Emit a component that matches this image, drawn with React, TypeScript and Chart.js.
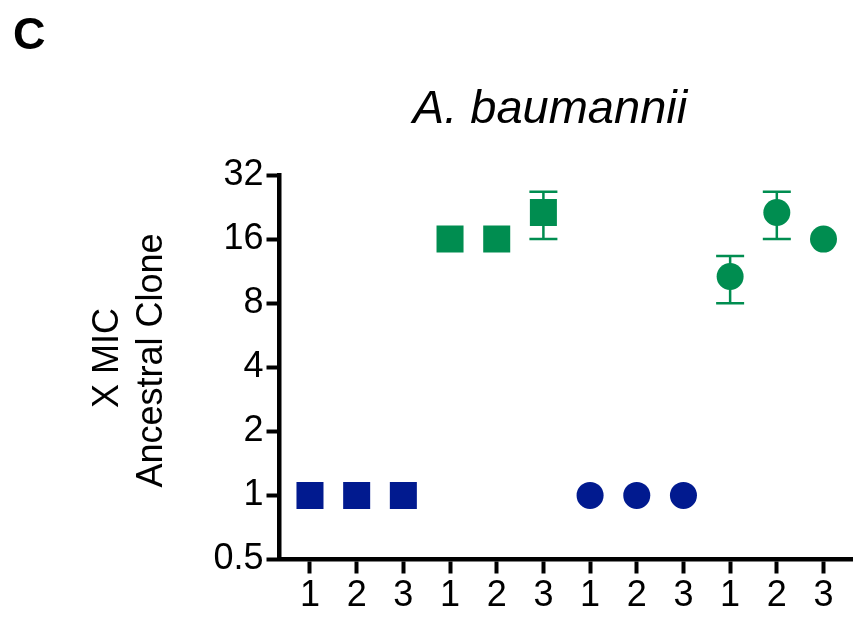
import React, { useEffect, useRef } from 'react';
import { Chart, registerables } from 'chart.js';

Chart.register(...registerables);

// ---- data ----
const categories = ['1', '2', '3', '1', '2', '3', '1', '2', '3', '1', '2', '3'];
const yTickValues = [0.5, 1, 2, 4, 8, 16, 32];

const blueSquareX = [0, 1, 2];
const blueSquareY = [1, 1, 1];

const greenSquareX = [3, 4, 5];
const greenSquareY = [16, 16, 21.33];
const greenSquareLow = [16, 16, 16];
const greenSquareHigh = [16, 16, 26.67];

const blueCircleX = [6, 7, 8];
const blueCircleY = [1, 1, 1];

const greenCircleX = [9, 10, 11];
const greenCircleY = [10.67, 21.33, 16];
const greenCircleLow = [8, 16, 16];
const greenCircleHigh = [13.33, 26.67, 16];

const titleText = 'A. baumannii';
const panelLabel = 'C';
const yTitleLines = ['X MIC', 'Ancestral Clone'];

const BLUE = '#011a8f';
const GREEN = '#008d50';
const FONT = '"Liberation Sans", Arial, Helvetica, sans-serif';

const pts = (xs: number[], ys: number[]) => xs.map((x, i) => ({ x, y: ys[i] }));

const errorBarPlugin = {
  id: 'errorBars',
  beforeDatasetsDraw(chart: any) {
    const { ctx } = chart;
    const xs = chart.scales.x;
    const ys = chart.scales.y;
    chart.data.datasets.forEach((ds: any) => {
      if (!ds.errLow) return;
      ds.data.forEach((p: any, i: number) => {
        const lo = ds.errLow[i];
        const hi = ds.errHigh[i];
        if (lo === hi) return;
        const px = xs.getPixelForValue(p.x);
        const y1 = ys.getPixelForValue(lo);
        const y2 = ys.getPixelForValue(hi);
        ctx.save();
        ctx.strokeStyle = ds.backgroundColor;
        ctx.lineWidth = 2.5;
        ctx.beginPath();
        ctx.moveTo(px, y1);
        ctx.lineTo(px, y2);
        ctx.moveTo(px - 14, y1);
        ctx.lineTo(px + 14, y1);
        ctx.moveTo(px - 14, y2);
        ctx.lineTo(px + 14, y2);
        ctx.stroke();
        ctx.restore();
      });
    });
  },
};

const textPlugin = {
  id: 'extraText',
  afterDraw(chart: any) {
    const { ctx } = chart;
    ctx.save();
    ctx.fillStyle = '#000';
    ctx.textAlign = 'center';
    ctx.textBaseline = 'alphabetic';
    ctx.font = `italic 47px ${FONT}`;
    ctx.fillText(titleText, 550, 123);
    ctx.textAlign = 'left';
    ctx.font = `bold 45px ${FONT}`;
    ctx.fillText(panelLabel, 13, 49);
    // y-axis title (two rotated lines)
    ctx.font = `36px ${FONT}`;
    ctx.textAlign = 'center';
    const lines: [string, number, number][] = [
      [yTitleLines[0], 118, 358],
      [yTitleLines[1], 162, 360.5],
    ];
    lines.forEach(([t, x, y]) => {
      ctx.save();
      ctx.translate(x, y);
      ctx.rotate(-Math.PI / 2);
      ctx.fillText(t, 0, 0);
      ctx.restore();
    });
    ctx.restore();
  },
};

export default function App() {
  const ref = useRef<HTMLCanvasElement>(null);
  useEffect(() => {
    document.body.style.margin = '0';
    const chart = new Chart(ref.current!, {
      type: 'scatter',
      data: {
        datasets: [
          {
            data: pts(blueSquareX, blueSquareY),
            backgroundColor: BLUE,
            borderWidth: 0,
            pointStyle: 'rect',
            pointRadius: 19.1,
          },
          {
            data: pts(greenSquareX, greenSquareY),
            backgroundColor: GREEN,
            borderWidth: 0,
            pointStyle: 'rect',
            pointRadius: 19.1,
            errLow: greenSquareLow,
            errHigh: greenSquareHigh,
          } as any,
          {
            data: pts(blueCircleX, blueCircleY),
            backgroundColor: BLUE,
            borderWidth: 0,
            pointStyle: 'circle',
            pointRadius: 13.5,
          },
          {
            data: pts(greenCircleX, greenCircleY),
            backgroundColor: GREEN,
            borderWidth: 0,
            pointStyle: 'circle',
            pointRadius: 13.5,
            errLow: greenCircleLow,
            errHigh: greenCircleHigh,
          } as any,
        ],
      },
      options: {
        animation: false,
        responsive: false,
        events: [],
        layout: { autoPadding: false, padding: { left: 0, right: 0, top: 175, bottom: 0 } },
        plugins: { legend: { display: false }, tooltip: { enabled: false }, title: { display: false } },
        scales: {
          x: {
            type: 'linear',
            min: -0.653,
            max: 11.632,
            afterBuildTicks: (s: any) => {
              s.ticks = categories.map((_, i) => ({ value: i }));
            },
            afterFit: (s: any) => {
              s.height = 62.5;
              s.paddingLeft = 0;
              s.paddingRight = 0;
            },
            ticks: {
              callback: (v: any) => categories[v as number],
              color: '#000',
              font: { family: FONT, size: 36 },
              padding: 1,
              maxRotation: 0,
              autoSkip: false,
            },
            grid: { drawOnChartArea: false, drawTicks: true, tickLength: 14, tickWidth: 4, tickColor: '#000' },
            border: { display: true, color: '#000', width: 4.5 },
          },
          y: {
            type: 'logarithmic',
            min: 0.5,
            max: 32,
            afterBuildTicks: (s: any) => {
              s.ticks = yTickValues.map((v) => ({ value: v }));
            },
            afterFit: (s: any) => {
              s.width = 279.5;
              s.paddingTop = 0;
              s.paddingBottom = 0;
            },
            ticks: {
              callback: (v: any) => String(v),
              color: '#000',
              font: { family: FONT, size: 36 },
              padding: 3,
              autoSkip: false,
            },
            grid: { drawOnChartArea: false, drawTicks: true, tickLength: 13, tickWidth: 4, tickColor: '#000' },
            border: { display: true, color: '#000', width: 4.5 },
          },
        },
      },
      plugins: [errorBarPlugin, textPlugin],
    } as any);
    return () => chart.destroy();
  }, []);
  return <canvas ref={ref} width={853} height={622} />;
}
